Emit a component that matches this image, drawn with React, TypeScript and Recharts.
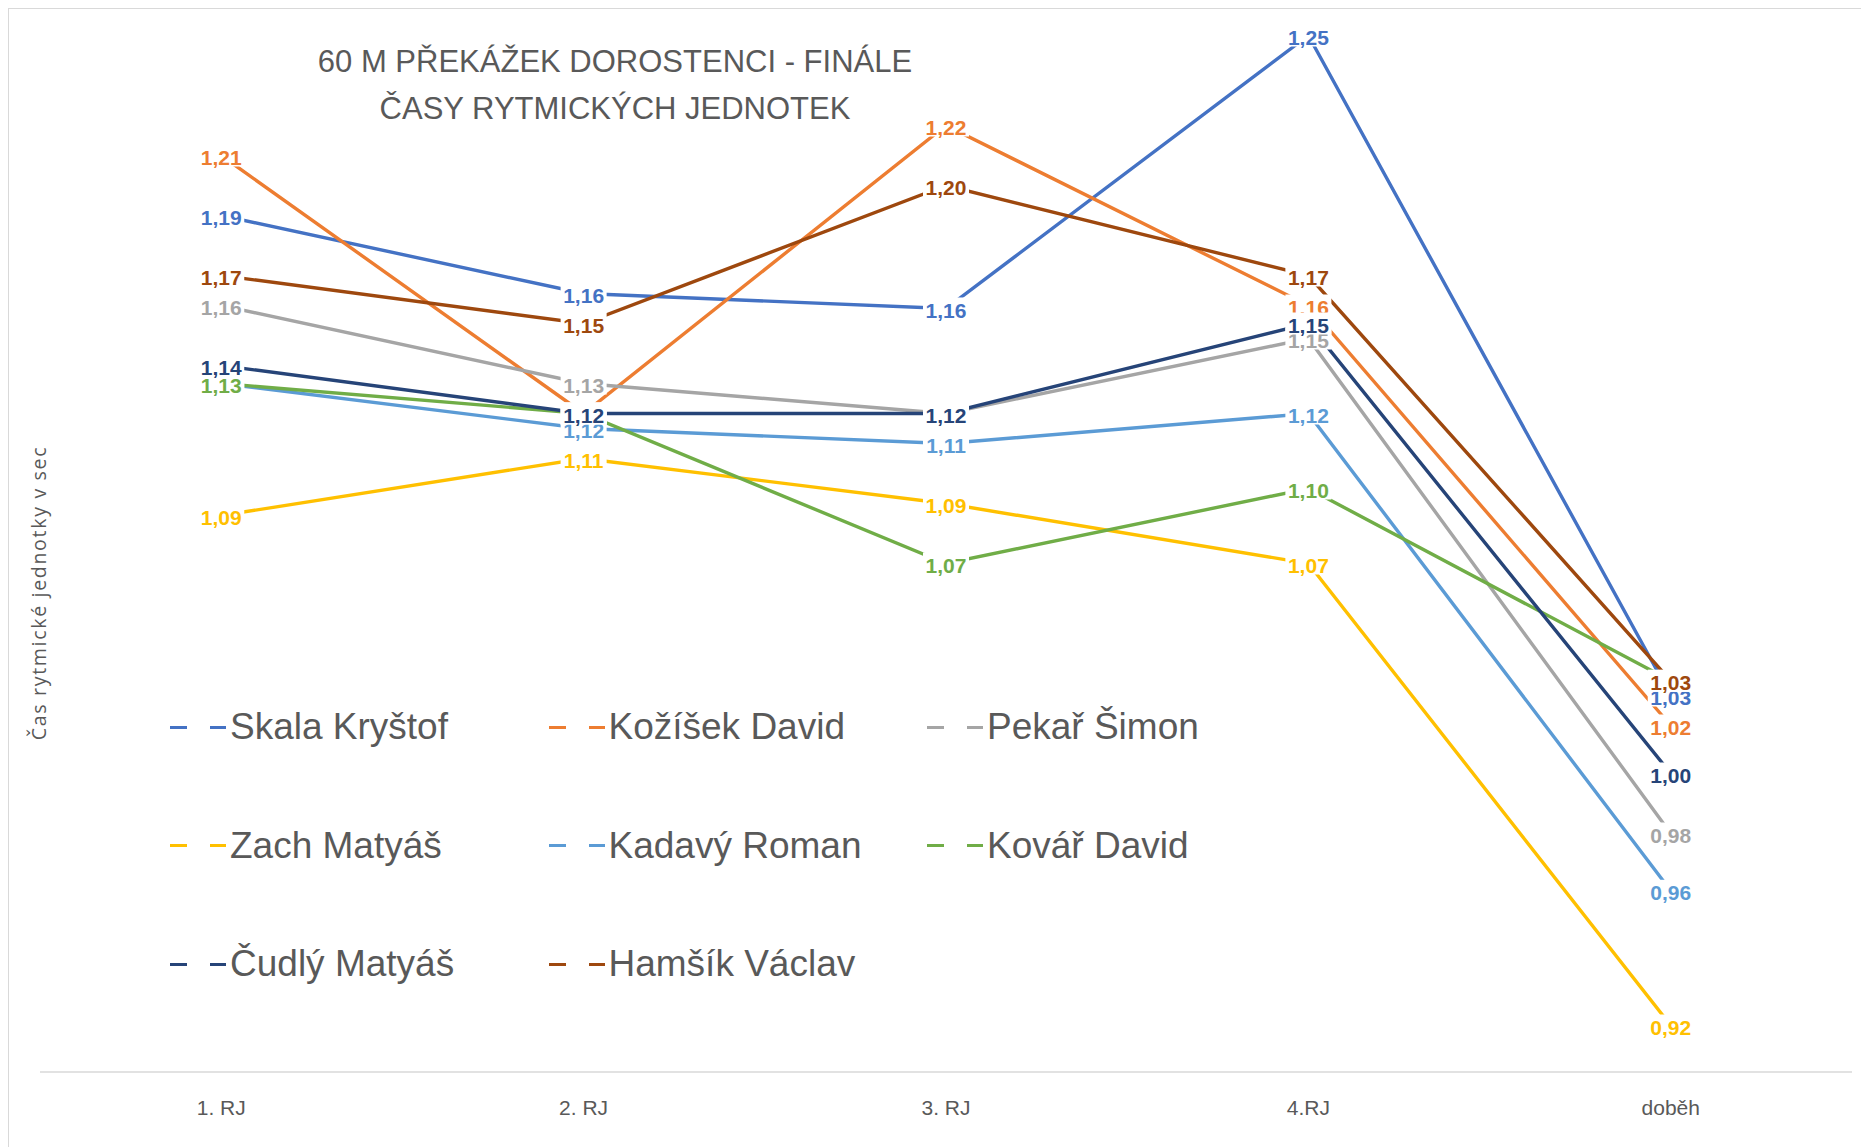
import React from 'react';
import { LineChart, Line, XAxis, YAxis, Legend } from 'recharts';

const CATEGORIES = ['1. RJ', '2. RJ', '3. RJ', '4.RJ', 'doběh'];

const SKALA = [1.19, 1.164, 1.159, 1.25, 1.03];
const KOZISEK = [1.21, 1.124, 1.22, 1.16, 1.02];
const PEKAR = [1.16, 1.134, 1.124, 1.149, 0.984];
const ZACH = [1.09, 1.109, 1.094, 1.074, 0.92];
const KADAVY = [1.134, 1.119, 1.114, 1.124, 0.9649];
const KOVAR = [1.134, 1.124, 1.074, 1.099, 1.0349];
const CUDLY = [1.14, 1.124, 1.124, 1.154, 1.004];
const HAMSIK = [1.17, 1.154, 1.2, 1.17, 1.0349];

const SERIES_NAMES = [
  'Skala Kryštof',
  'Kožíšek David',
  'Pekař Šimon',
  'Zach Matyáš',
  'Kadavý Roman',
  'Kovář David',
  'Čudlý Matyáš',
  'Hamšík Václav',
];
const SERIES_VALUES = [SKALA, KOZISEK, PEKAR, ZACH, KADAVY, KOVAR, CUDLY, HAMSIK];
const SERIES_COLORS = ['#4472C4', '#ED7D31', '#A5A5A5', '#FFC000', '#5B9BD5', '#70AD47', '#264478', '#9E480E'];

const TITLE_LINES = ['60 M PŘEKÁŽEK DOROSTENCI - FINÁLE', 'ČASY RYTMICKÝCH JEDNOTEK'];
const Y_LABEL = 'Čas rytmické jednotky v sec';

const data = CATEGORIES.map((cat, i) => {
  const row: Record<string, any> = { cat };
  SERIES_VALUES.forEach((vals, s) => {
    row['s' + s] = vals[i];
  });
  return row;
});

const FONT = '"Liberation Sans", Arial, sans-serif';
const TEXT_GRAY = '#595959';

const fmt = (v: number) => v.toFixed(2).replace('.', ',');

const makeLabel = (color: string) => (props: any) => {
  const x = props.x ?? props.viewBox?.x;
  const y = props.y ?? props.viewBox?.y;
  const value = props.value;
  if (x == null || y == null || value == null) return null;
  return (
    <g>
      <rect x={x - 23} y={y - 11} width={46} height={22} fill="#ffffff" />
      <text
        x={x}
        y={y + 1.5}
        textAnchor="middle"
        dominantBaseline="central"
        fontFamily={FONT}
        fontWeight={700}
        fontSize={21}
        fill={color}
      >
        {fmt(Number(value))}
      </text>
    </g>
  );
};

const renderTick = (props: any) => {
  const { x, y, payload } = props;
  return (
    <text
      x={x}
      y={y + 35}
      textAnchor="middle"
      dominantBaseline="central"
      fontFamily={FONT}
      fontSize={21}
      fill={TEXT_GRAY}
    >
      {payload.value}
    </text>
  );
};

// legend placement (relative to legend wrapper)
const LEG_LEFT = 150;
const LEG_TOP = 680;

const renderLegend = () => {
  return (
    <div style={{ position: 'relative', width: 1000, height: 330 }}>
      {SERIES_NAMES.map((name, i) => {
        const col = i % 3;
        const row = Math.floor(i / 3);
        const left = 170 + col * 378.5 - 9 - LEG_LEFT;
        const cy = 727 + row * 118.5 - 9 - LEG_TOP;
        const color = SERIES_COLORS[i];
        return (
          <div
            key={name}
            style={{
              position: 'absolute',
              left,
              top: cy - 25,
              height: 50,
              display: 'flex',
              alignItems: 'center',
              whiteSpace: 'nowrap',
            }}
          >
            <span style={{ display: 'inline-block', width: 17, height: 3, background: color }} />
            <span style={{ display: 'inline-block', width: 23 }} />
            <span style={{ display: 'inline-block', width: 16, height: 3, background: color }} />
            <span
              style={{
                fontFamily: FONT,
                fontSize: 37,
                color: TEXT_GRAY,
                lineHeight: '50px',
                marginLeft: 4,
              }}
            >
              {name}
            </span>
          </div>
        );
      })}
    </div>
  );
};

export default function App() {
  return (
    <div
      style={{
        position: 'absolute',
        left: 8,
        top: 8,
        width: 1853,
        height: 1139,
        boxSizing: 'border-box',
        borderTop: '1px solid #d9d9d9',
        borderLeft: '1px solid #d9d9d9',
        background: '#ffffff',
        fontFamily: FONT,
      }}
    >
      <LineChart
        width={1852}
        height={1138}
        data={data}
        margin={{ top: 11.5, right: 9, bottom: 15, left: 31 }}
      >
        <XAxis
          dataKey="cat"
          height={60}
          padding={{ left: 181.25, right: 181.25 }}
          axisLine={{ stroke: '#d9d9d9', strokeWidth: 1.5 }}
          tickLine={false}
          tickSize={0}
          tickMargin={0}
          tick={renderTick}
          interval={0}
        />
        <YAxis hide type="number" domain={[0.9045, 1.255]} allowDataOverflow />
        {SERIES_NAMES.map((name, i) => (
          <Line
            key={'line' + i}
            type="linear"
            dataKey={'s' + i}
            name={name}
            stroke={SERIES_COLORS[i]}
            strokeWidth={3.4}
            dot={false}
            activeDot={false}
            isAnimationActive={false}
          />
        ))}
        {SERIES_NAMES.map((name, i) => (
          <Line
            key={'lab' + i}
            type="linear"
            dataKey={'s' + i}
            name={name + ' '}
            stroke="none"
            strokeWidth={0}
            dot={false}
            activeDot={false}
            legendType="none"
            isAnimationActive={false}
            label={makeLabel(SERIES_COLORS[i])}
          />
        ))}
        <Legend
          layout="vertical"
          verticalAlign="middle"
          align="center"
          content={renderLegend}
          wrapperStyle={{ position: 'absolute', left: LEG_LEFT, top: LEG_TOP, width: 1000, height: 330 }}
        />
      </LineChart>
      <div
        style={{
          position: 'absolute',
          left: 206,
          top: 28.5,
          width: 800,
          textAlign: 'center',
          fontFamily: FONT,
          fontSize: 31,
          lineHeight: '47px',
          color: TEXT_GRAY,
          whiteSpace: 'nowrap',
        }}
      >
        {TITLE_LINES.map((t) => (
          <div key={t}>{t}</div>
        ))}
      </div>
      <div
        style={{
          position: 'absolute',
          left: -169.7,
          top: 569,
          width: 400,
          height: 30,
          lineHeight: '30px',
          textAlign: 'center',
          fontFamily: '"Open Sans", sans-serif',
          fontSize: 19.5,
          letterSpacing: 1.7,
          color: TEXT_GRAY,
          transform: 'rotate(-90deg)',
          whiteSpace: 'nowrap',
        }}
      >
        {Y_LABEL}
      </div>
    </div>
  );
}
